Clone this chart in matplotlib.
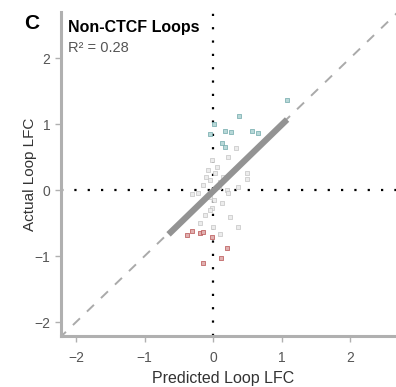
import numpy as np
import matplotlib
matplotlib.use("Agg")
import matplotlib.pyplot as plt

plt.rcParams['font.family'] = ['Liberation Sans', 'DejaVu Sans']

# loops with actual LFC above the fit (teal), below (red), rest (grey)
up_x = [1.08, 0.38, 0.01, 0.18, 0.26, 0.57, 0.66, -0.04, 0.13, 0.18]
up_y = [1.37, 1.13, 1.00, 0.90, 0.88, 0.90, 0.87, 0.85, 0.71, 0.65]

down_x = [-0.38, -0.31, -0.19, -0.15, 0.20, 0.12, -0.15, -0.01]
down_y = [-0.68, -0.62, -0.65, -0.64, -0.88, -1.03, -1.11, -0.71]

mid_x = [0.34, 0.22, 0.03, 0.15, 0.50, 0.50, -0.04, -0.15, 0.36, 0.20, -0.22,
         -0.31, 0.22, -0.04, 0.13, -0.01, 0.25, -0.12, -0.19, 0.36, 0.00, 0.10,
         -0.08, 0.05, 0.08, -0.10, 0.02, -0.05, 0.10, -0.02]
mid_y = [0.64, 0.50, 0.26, 0.20, 0.26, 0.17, 0.15, 0.08, 0.05, 0.00, -0.05,
         -0.06, -0.05, -0.10, -0.20, -0.27, -0.41, -0.38, -0.50, -0.56, -0.56, -0.67,
         0.30, 0.35, 0.05, 0.20, -0.15, -0.30, 0.12, 0.45]

fit_x = [-0.65, 1.08]
fit_y = [-0.67, 1.07]

r2 = 0.28
ticks = [-2, -1, 0, 1, 2]

fig = plt.figure(figsize=(3.96, 3.87), dpi=100)
ax = fig.add_axes([0.154, 0.132, 0.846, 0.837])

ax.plot([-2.25, 2.7], [-2.25, 2.7], color='#aaaaaa', lw=1.4, ls=(0, (5, 5)), zorder=1)
ax.axhline(0, color='black', lw=1.6, ls=(0, (1, 5)), zorder=1)
ax.axvline(0, color='black', lw=1.6, ls=(0, (1, 5)), zorder=1)

ax.scatter(mid_x, mid_y, s=5, marker='s', facecolor='#ececec', edgecolor='#c4c4c4', lw=0.5, zorder=2)
ax.scatter(up_x, up_y, s=5, marker='s', facecolor='#b8d8d8', edgecolor='#6fa8aa', lw=0.5, zorder=2)
ax.scatter(down_x, down_y, s=5, marker='s', facecolor='#e0b0b0', edgecolor='#b85050', lw=0.5, zorder=2)

ax.plot(fit_x, fit_y, color='#939393', lw=4.5, solid_capstyle='butt', zorder=3)

ax.set_xlim(-2.22, 2.67)
ax.set_ylim(-2.21, 2.7)
ax.set_xticks(ticks)
ax.set_yticks(ticks)
ax.set_xticklabels([str(t).replace('-', '\u2212') for t in ticks])
ax.set_yticklabels([str(t).replace('-', '\u2212') for t in ticks])

for s in ['top', 'right']:
    ax.spines[s].set_visible(False)
for s in ['left', 'bottom']:
    ax.spines[s].set_color('#b0b0b0')
    ax.spines[s].set_linewidth(2.2)
ax.tick_params(colors='#b0b0b0', labelcolor='#555555', labelsize=10, length=4, width=1)
ax.tick_params(axis='x', pad=7)

ax.set_xlabel('Predicted Loop LFC', fontsize=11.5, color='#333333')
ax.xaxis.set_label_coords(0.485, -0.108)
ax.set_ylabel('Actual Loop LFC', fontsize=11, color='#333333')
ax.yaxis.set_label_coords(-0.072, 0.5)

ax.text(0.022, 0.975, 'Non-CTCF Loops', transform=ax.transAxes, fontsize=11.5,
        fontweight='bold', va='top', ha='left')
ax.text(0.022, 0.912, 'R\u00b2 = %.2f' % r2, transform=ax.transAxes, fontsize=10.5,
        color='#555555', va='top', ha='left')
fig.text(0.062, 0.965, 'C', fontsize=15, fontweight='bold', va='top', ha='left')

fig.savefig('out.png', dpi=100)
